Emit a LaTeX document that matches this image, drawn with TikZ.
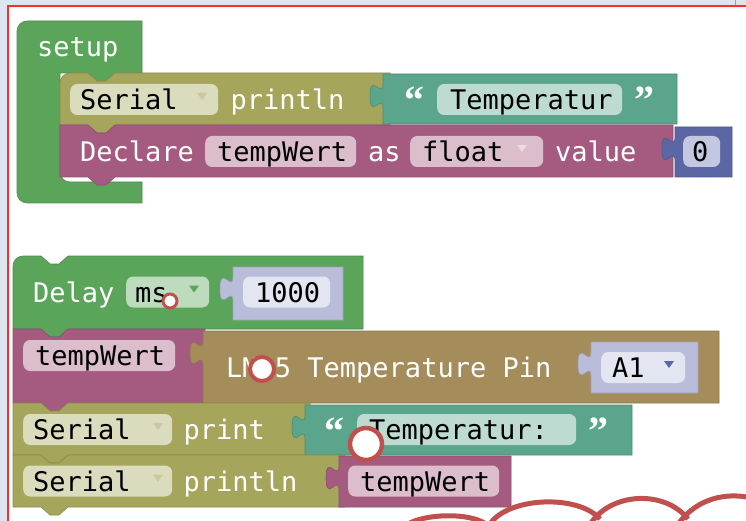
\documentclass[tikz,border=0pt]{standalone}
\usepackage{fontspec}
\usetikzlibrary{positioning}
\newfontfamily\blkfont{DejaVu Sans Mono}
\newfontfamily\quotefont{Liberation Serif}
\definecolor{bgblue}{HTML}{DCE5F0}
\definecolor{frame}{HTML}{FF2A2A}
\definecolor{blkgreen}{HTML}{5BA55B}
\definecolor{blkolive}{HTML}{A5A55B}
\definecolor{blkteal}{HTML}{5BA58C}
\definecolor{blkmagenta}{HTML}{A55B80}
\definecolor{blkblue}{HTML}{5B67A5}
\definecolor{blkbrown}{HTML}{A58C5B}
\definecolor{blkshadow}{HTML}{B9BDDA}
\definecolor{fldolive}{HTML}{DBDBBD}
\definecolor{fldteal}{HTML}{BDDBD1}
\definecolor{fldpink}{HTML}{DBBDCC}
\definecolor{fldgreen}{HTML}{BDDBBD}
\definecolor{fldblue}{HTML}{C3C7E0}
\definecolor{fldshadow}{HTML}{E3E5F1}
\definecolor{marker}{HTML}{C0504D}
\tikzset{
  lbl/.style={font=\blkfont\fontsize{27}{27}\selectfont, text=white, inner sep=0pt,
              text height=20pt, text depth=0pt, anchor=west},
  ftxt/.style={lbl, text=black},
  quot/.style={lbl, font=\quotefont\bfseries\fontsize{40}{40}\selectfont},
  fld/.style={rectangle, rounded corners=7pt, fill=#1, inner sep=0pt,
              minimum height=31pt, anchor=west},
  ddarrow/.style={fill=#1},
  ring/.style={draw=marker, fill=white, line width=#1},
  cloudarc/.style={draw=marker, line width=5pt},
}
% statement block: colour, corner radius, top left x/y, bottom right x/y
\newcommand{\stmtblock}[6]{%
  \filldraw[fill=#1, draw=#1!85!black, line width=0.6pt]
    (#3,#6) -- (#3,{#4+#2}) .. controls (#3,{#4+0.45*#2}) and ({#3+0.45*#2},#4) .. ({#3+#2},#4)
    -- ({#3+28},#4) -- ({#3+37},{#4+8}) -- ({#3+46},{#4+8}) -- ({#3+55},#4)
    -- (#5,#4) -- (#5,#6)
    -- ({#3+55},#6) -- ({#3+46},{#6+8}) -- ({#3+37},{#6+8}) -- ({#3+28},#6) -- cycle;}
% value block with its plug on the left: colour, top left x/y, bottom right x/y
\newcommand{\valblock}[5]{%
  \filldraw[fill=#1, draw=#1!85!black, line width=0.6pt]
    (#2,#3) -- (#2,{#3+10}) .. controls (#2,{#3+26}) and ({#2-13},{#3-3}) .. ({#2-13},{#3+22})
    .. controls ({#2-13},{#3+47}) and (#2,{#3+18}) .. (#2,{#3+34})
    -- (#2,#5) -- (#4,#5) -- (#4,#3) -- cycle;}
% small dropdown triangle: colour, centre x, row centre y
\newcommand{\ddtri}[3]{%
  \fill[ddarrow=#1] ({#2-5},{#3-6.5}) -- ({#2+5},{#3-6.5}) -- (#2,{#3+0.5}) -- cycle;}

\begin{document}
\begin{tikzpicture}[x=1pt, y=-1pt]
  \useasboundingbox (0,0) rectangle (746,521);
  \fill[bgblue] (0,0) rectangle (746,521);
  \fill[white] (8,6) rectangle (746,521);
  \draw[frame, line width=2pt] (8,521) -- (8,6) -- (746,6);
  \draw[bgblue!70!black, line width=0.8pt] (735,0) -- (735,5);

  % setup
  \filldraw[fill=blkgreen, draw=blkgreen!85!black, line width=0.6pt]
    (17,31) .. controls (17,25.5) and (21.5,21) .. (27,21) -- (142,21) -- (142,73)
    -- (115,73) -- (106,81) -- (97,81) -- (88,73) -- (60,73) -- (60,172)
    .. controls (60,177.5) and (64.5,182) .. (70,182) -- (142,182) -- (142,203)
    -- (27,203) .. controls (21.5,203) and (17,198.5) .. (17,193) -- cycle;
  \node[lbl] (setup) at (37,47) {setup};

  \stmtblock{blkolive}{10}{60}{73}{390}{125}
  \node[fld=fldolive, minimum width=148pt] (serfld1) at (70,99.5) {};
  \node[ftxt] (ser1) at (80,99.5) {Serial};
  \ddtri{blkolive!60!white}{202}{99.5}
  \node[lbl, right=12pt of serfld1] (prn1) {println};
  \valblock{blkteal}{383}{74}{677}{124}
  \node[quot] (qa1) at (404,104) {“};
  \node[fld=fldteal, minimum width=185pt] (strfld1) at (437,99.5) {};
  \node[ftxt] (str1) at (450,99.5) {Temperatur};
  \node[quot] (qb1) at (634,104) {”};

  \stmtblock{blkmagenta}{0}{60}{125}{673}{177}
  \node[lbl] (decl) at (80,151.5) {Declare};
  \node[fld=fldpink, minimum width=151pt] (varfld1) at (205,151.5) {};
  \node[ftxt] (var1) at (217,151.5) {tempWert};
  \node[lbl] (as) at (368,151.5) {as};
  \node[fld=fldpink, minimum width=133pt] (typefld) at (410,151.5) {};
  \node[ftxt] (type) at (422,151.5) {float};
  \ddtri{blkmagenta!22!white}{522}{151.5}
  \node[lbl] (value) at (555,151.5) {value};
  \valblock{blkblue}{675}{127}{732}{177}
  \node[fld=fldblue, minimum width=37pt] (numfld) at (683,151.5) {};
  \node[ftxt] (num) at (692,151.5) {0};

  % loop stack
  \stmtblock{blkgreen}{10}{13}{256}{363}{329}
  \node[lbl] (delay) at (33,292) {Delay};
  \node[fld=fldgreen, minimum width=83pt] (unitfld) at (126,292) {};
  \node[ftxt] (unit) at (135,292) {ms};
  \ddtri{blkgreen}{194}{292}
  \valblock{blkshadow}{233}{267}{343}{320}
  \node[fld=fldshadow, minimum width=87pt] (msfld) at (243,292) {};
  \node[ftxt] (ms) at (255,292) {1000};

  \stmtblock{blkmagenta}{0}{13}{329}{205}{403}
  \node[fld=fldpink, minimum width=152pt] (varfld2) at (23,355.5) {};
  \node[ftxt] (var2) at (35,355.5) {tempWert};
  \valblock{blkbrown}{203}{331}{719}{403}
  \node[lbl] (sensor) at (226,367.5) {LM35 Temperature Pin};
  \valblock{blkshadow}{591}{342}{698}{393}
  \node[fld=fldshadow, minimum width=84pt] (pinfld) at (601,367.5) {};
  \node[ftxt] (pin) at (612,367.5) {A1};
  \ddtri{blkblue}{669}{367.5}

  \stmtblock{blkolive}{0}{13}{403}{310}{455}
  \node[fld=fldolive, minimum width=149pt] (serfld2) at (23,429.5) {};
  \node[ftxt] (ser2) at (33,429.5) {Serial};
  \ddtri{blkolive!60!white}{158}{429.5}
  \node[lbl, right=11pt of serfld2] (prn2) {print};
  \valblock{blkteal}{305}{405}{632}{455}
  \node[quot] (qa2) at (324,434) {“};
  \node[fld=fldteal, minimum width=219pt] (strfld2) at (357,429.5) {};
  \node[ftxt] (str2) at (369,429.5) {Temperatur:};
  \node[quot] (qb2) at (588,434) {”};

  \stmtblock{blkolive}{0}{13}{455}{345}{507}
  \node[fld=fldolive, minimum width=149pt] (serfld3) at (23,481) {};
  \node[ftxt] (ser3) at (33,481) {Serial};
  \ddtri{blkolive!60!white}{158}{481}
  \node[lbl, right=11pt of serfld3] (prn3) {println};
  \valblock{blkmagenta}{339}{456}{511}{507}
  \node[fld=fldpink, minimum width=151pt] (varfld3) at (348,481) {};
  \node[ftxt] (var3) at (360,481) {tempWert};

  % markers
  \draw[ring=3pt] (170,301) circle[radius=7];
  \draw[ring=4pt] (262,369) circle[radius=12];
  \draw[ring=4.5pt] (366,444) circle[radius=16];

  \draw[cloudarc] (408,524) .. controls (425,514) and (468,512) .. (486,524);
  \draw[cloudarc] (490,524) .. controls (508,497) and (578,494) .. (600,519);
  \draw[cloudarc] (591,523) .. controls (612,492) and (665,490) .. (688,519);
  \draw[cloudarc] (679,523) .. controls (702,492) and (742,490) .. (770,505);
\end{tikzpicture}
\end{document}
